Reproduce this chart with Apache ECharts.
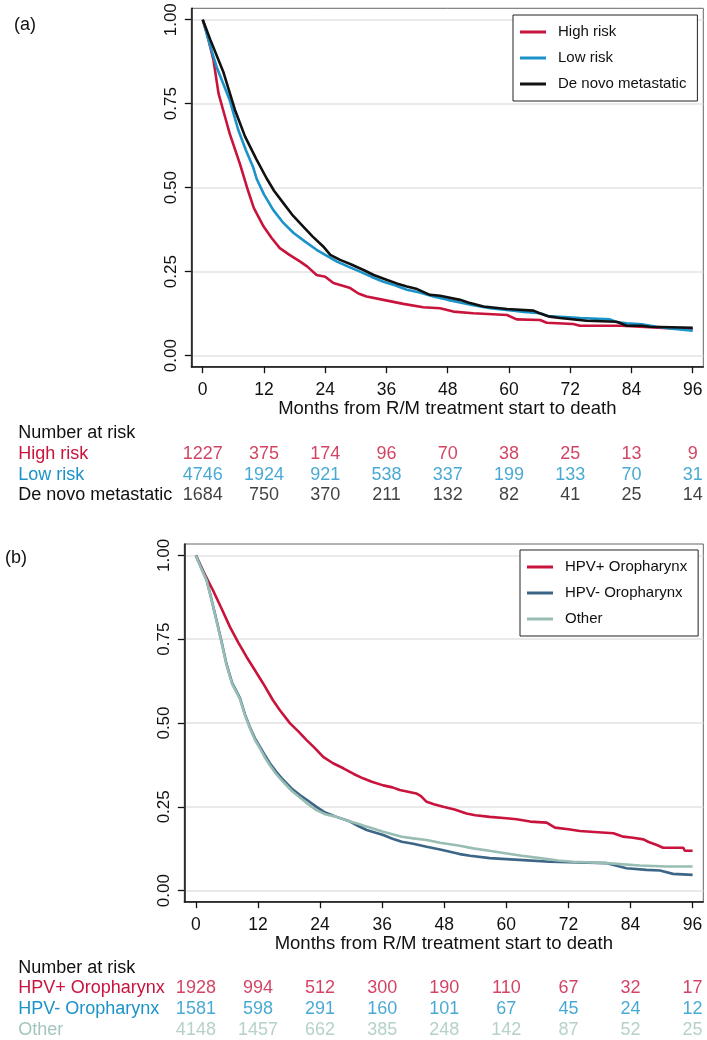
<!DOCTYPE html>
<html>
<head>
<meta charset="utf-8">
<script src="https://cdn.jsdelivr.net/npm/echarts@6/dist/echarts.min.js"></script>
<style>
  html, body {margin: 0; padding: 0; background: #fff;}
  #chart {width: 707px; height: 1040px;}
</style>
</head>
<body>
<div id="chart"></div>
<script>
const monthTicks = [0, 12, 24, 36, 48, 60, 72, 84, 96];
const survivalTicks = [0, 0.25, 0.5, 0.75, 1];

// panel (a) survival curves, [month, survival]
const highRisk = [[0, 1], [0.8, 0.96], [2.1, 0.88], [3.1, 0.78], [4.2, 0.72], [5.3, 0.66], [7.3, 0.57], [8.9, 0.49], [10, 0.44], [11.9, 0.385], [13.5, 0.35], [15.1, 0.32], [17, 0.3], [19.1, 0.28], [20.5, 0.265], [22.3, 0.24], [24, 0.235], [25.6, 0.216], [28.9, 0.201], [30.5, 0.185], [32.1, 0.176], [35.4, 0.166], [39.3, 0.154], [43.2, 0.144], [46.5, 0.141], [49.1, 0.131], [53, 0.126], [59.6, 0.121], [61.5, 0.108], [66.1, 0.106], [67.4, 0.098], [72.6, 0.094], [73.9, 0.089], [82, 0.089], [82.1, 0.086], [90.2, 0.082], [96, 0.079]];
const lowRisk = [[0, 1], [1.5, 0.92], [2.7, 0.86], [4, 0.81], [5.3, 0.76], [7, 0.67], [8.5, 0.61], [9.9, 0.56], [10.6, 0.525], [12, 0.48], [13.8, 0.434], [15.8, 0.395], [17.8, 0.365], [20, 0.34], [22.3, 0.315], [24, 0.3], [26.3, 0.28], [28.5, 0.265], [30.8, 0.25], [33, 0.235], [35.4, 0.22], [37.5, 0.21], [40, 0.196], [42.5, 0.188], [45.2, 0.176], [48, 0.166], [50.4, 0.158], [53, 0.15], [56.3, 0.141], [60, 0.135], [63, 0.13], [66.1, 0.126], [67.5, 0.118], [69.4, 0.116], [74, 0.112], [79.8, 0.108], [81, 0.1], [83.1, 0.096], [86, 0.093], [88.9, 0.086], [92, 0.08], [96, 0.074]];
const deNovo = [[0, 1], [1.5, 0.94], [4, 0.846], [6.3, 0.732], [8.3, 0.652], [10.5, 0.585], [12.5, 0.528], [14, 0.49], [15.8, 0.454], [17.5, 0.42], [19.7, 0.384], [21.5, 0.355], [23.6, 0.325], [25, 0.3], [26.9, 0.285], [29, 0.272], [31.5, 0.255], [33.5, 0.24], [36, 0.226], [38, 0.215], [40, 0.206], [42, 0.198], [44.5, 0.181], [46.5, 0.178], [50.4, 0.166], [52, 0.158], [55, 0.146], [59.6, 0.139], [64.8, 0.134], [66, 0.126], [68, 0.116], [70, 0.112], [75.2, 0.104], [81.1, 0.101], [83.1, 0.089], [86, 0.089], [87.6, 0.086], [96, 0.083]];

// panel (b) survival curves
const hpvPos = [[0, 1], [1.5, 0.95], [3.3, 0.896], [5, 0.84], [6.6, 0.786], [8.2, 0.74], [9.8, 0.697], [11.5, 0.655], [13, 0.618], [14.9, 0.568], [16.2, 0.539], [18.2, 0.499], [19.8, 0.475], [21.4, 0.449], [23, 0.425], [24.6, 0.399], [26.5, 0.38], [28.5, 0.365], [30.5, 0.348], [32.3, 0.335], [34, 0.325], [36.2, 0.314], [38, 0.308], [39.4, 0.3], [42.6, 0.29], [43.5, 0.282], [44.6, 0.265], [46, 0.258], [47.8, 0.25], [50, 0.242], [52.3, 0.23], [54, 0.225], [56.8, 0.22], [60, 0.216], [62, 0.213], [64.6, 0.206], [67.8, 0.203], [69.4, 0.188], [72, 0.183], [74.2, 0.178], [77, 0.175], [80.7, 0.171], [82.6, 0.161], [84.5, 0.158], [86.5, 0.153], [87.5, 0.145], [89.1, 0.136], [90.3, 0.128], [94.2, 0.128], [94.5, 0.119], [96, 0.119]];
const hpvNeg = [[0, 1], [1, 0.965], [2.1, 0.926], [3, 0.87], [4, 0.806], [5, 0.74], [5.9, 0.677], [7, 0.62], [8.5, 0.575], [9.5, 0.525], [10.4, 0.489], [11.4, 0.455], [12.4, 0.429], [13.3, 0.405], [14.3, 0.38], [15.5, 0.355], [16.9, 0.33], [18.5, 0.305], [20.1, 0.285], [21.7, 0.268], [23.3, 0.25], [25, 0.233], [27.2, 0.22], [29.8, 0.206], [31.5, 0.192], [33, 0.181], [36.2, 0.166], [38, 0.155], [39.8, 0.146], [42, 0.14], [44.6, 0.131], [47.2, 0.123], [51, 0.109], [53, 0.104], [56.8, 0.097], [60, 0.094], [63.3, 0.091], [68.4, 0.086], [74, 0.084], [79.4, 0.082], [81.9, 0.072], [83.2, 0.067], [87.1, 0.062], [89.7, 0.06], [92.2, 0.05], [96, 0.047]];
const otherSite = [[0, 1], [1, 0.962], [2.1, 0.924], [3, 0.868], [4, 0.803], [5, 0.737], [5.9, 0.674], [7, 0.617], [8.5, 0.572], [9.5, 0.522], [10.4, 0.486], [11.4, 0.45], [12.4, 0.424], [13.3, 0.398], [14.3, 0.374], [15.5, 0.348], [16.9, 0.324], [18.5, 0.298], [20.1, 0.278], [21.7, 0.258], [23.3, 0.24], [25, 0.228], [27.2, 0.22], [29.8, 0.206], [31.5, 0.199], [33, 0.191], [36.2, 0.176], [39.8, 0.161], [42, 0.156], [44.6, 0.151], [47.2, 0.143], [51, 0.134], [53.6, 0.126], [57, 0.118], [60.1, 0.111], [63, 0.104], [66.5, 0.097], [70, 0.09], [72.9, 0.086], [79.4, 0.082], [85.8, 0.075], [91, 0.072], [96, 0.072]];

// number at risk tables
const riskRowsA = ["Number at risk", "High risk", "Low risk", "De novo metastatic"];
const atRiskHigh = [1227, 375, 174, 96, 70, 38, 25, 13, 9];
const atRiskLow = [4746, 1924, 921, 538, 337, 199, 133, 70, 31];
const atRiskDeNovo = [1684, 750, 370, 211, 132, 82, 41, 25, 14];
const riskRowsB = ["Number at risk", "HPV+ Oropharynx", "HPV- Oropharynx", "Other"];
const atRiskHpvPos = [1928, 994, 512, 300, 190, 110, 67, 32, 17];
const atRiskHpvNeg = [1581, 598, 291, 160, 101, 67, 45, 24, 12];
const atRiskOther = [4148, 1457, 662, 385, 248, 142, 87, 52, 25];

const RED = "#c8143c";
const BLUE = "#1b93c9";
const BLACK = "#111111";
const SLATE = "#3c6586";
const SAGE = "#97bdb4";
const SAGE_TEXT = "#a2c5bd";
const FONT = "'Liberation Sans', Arial, sans-serif";

const X_MIN = -2.24, X_MAX = 98.07, Y_MIN = -0.033, Y_MAX = 1.034;

function plotAxes(gridIndex) {
  const x = {
    type: "value", gridIndex, min: X_MIN, max: X_MAX,
    axisLine: {show: true, onZero: false, lineStyle: {color: BLACK, width: 1.5}},
    axisTick: {show: true, length: 6.5, lineStyle: {color: BLACK, width: 1.3}, customValues: monthTicks},
    axisLabel: {customValues: monthTicks, fontSize: 17.5, color: BLACK, fontFamily: FONT, margin: 14},
    splitLine: {show: false},
    name: "Months from R/M treatment start to death",
    nameLocation: "middle", nameGap: 33,
    nameTextStyle: {fontSize: 18.5, color: BLACK, fontFamily: FONT},
  };
  const y = {
    type: "value", gridIndex, min: Y_MIN, max: Y_MAX,
    axisLine: {show: true, onZero: false, lineStyle: {color: BLACK, width: 1.5}},
    axisTick: {show: true, length: 6.5, lineStyle: {color: BLACK, width: 1.3}, customValues: survivalTicks},
    axisLabel: {customValues: survivalTicks, rotate: 90, fontSize: 17, color: BLACK, fontFamily: FONT, margin: 11,
      formatter: v => v.toFixed(2)},
    splitLine: {show: true, lineStyle: {color: "#e3e3e3", width: 1.5}},
  };
  return [x, y];
}

function riskAxes(gridIndex, rows, colors, labelMargin) {
  const x = {type: "value", gridIndex, min: X_MIN, max: X_MAX, show: false};
  const y = {
    type: "category", gridIndex, data: rows, inverse: true,
    axisLine: {show: false}, axisTick: {show: false}, splitLine: {show: false},
    axisLabel: {interval: 0, align: "left", margin: labelMargin, fontSize: 18, fontFamily: FONT,
      color: (value, index) => colors[index]},
  };
  return [x, y];
}

function curve(name, data, color, axisIndex) {
  return {
    name, type: "line", data, xAxisIndex: axisIndex, yAxisIndex: axisIndex,
    showSymbol: false, symbol: "none", color,
    lineStyle: {color, width: 2.6}, silent: true,
  };
}

function riskRow(row, counts, color, axisIndex) {
  return {
    name: "n-" + row, type: "scatter", xAxisIndex: axisIndex, yAxisIndex: axisIndex,
    data: counts.map((n, i) => [monthTicks[i], row, n]),
    symbolSize: 1, itemStyle: {color: "transparent"}, silent: true,
    label: {show: true, position: "inside", formatter: p => String(p.value[2]),
      fontSize: 18, color, fontFamily: FONT},
  };
}

function legendBox(left, top, names) {
  return {
    data: names, left, top, orient: "vertical",
    padding: [7, 11, 7, 7], itemWidth: 26, itemHeight: 3, itemGap: 6, icon: "rect",
    borderColor: "#222", borderWidth: 1, backgroundColor: "#fff",
    selectedMode: false,
    textStyle: {fontSize: 15, lineHeight: 20, color: BLACK, fontFamily: FONT, padding: [0, 0, 0, 7]},
  };
}

const [xa, ya] = plotAxes(0);
const [xra, yra] = riskAxes(1, riskRowsA, [BLACK, RED, BLUE, BLACK], 173);
const [xb, yb] = plotAxes(2);
const [xrb, yrb] = riskAxes(3, riskRowsB, [BLACK, RED, BLUE, SAGE_TEXT], 166);

const chart = echarts.init(document.getElementById("chart"), null, {renderer: "canvas"});
chart.setOption({
  animation: false,
  backgroundColor: "#fff",
  textStyle: {fontFamily: FONT},
  title: [
    {text: "(a)", left: 9, top: 11, textStyle: {fontSize: 18, fontWeight: "normal", color: BLACK, fontFamily: FONT}},
    {text: "(b)", left: 0, top: 544, textStyle: {fontSize: 18, fontWeight: "normal", color: BLACK, fontFamily: FONT}},
  ],
  legend: [
    legendBox(513, 15, ["High risk", "Low risk", "De novo metastatic"]),
    legendBox(520, 550, ["HPV+ Oropharynx", "HPV- Oropharynx", "Other"]),
  ],
  grid: [
    {left: 191.3, right: 3.7, top: 8.3, bottom: 673.3, show: true, borderColor: "#666", borderWidth: 1},
    {left: 191.3, right: 3.7, top: 423, bottom: 534.2},
    {left: 184.3, right: 3.7, top: 544, bottom: 138.3, show: true, borderColor: "#666", borderWidth: 1},
    {left: 184.3, right: 3.7, top: 957.6, bottom: 0},
  ],
  xAxis: [xa, xra, xb, xrb],
  yAxis: [ya, yra, yb, yrb],
  series: [
    curve("High risk", highRisk, RED, 0),
    curve("Low risk", lowRisk, BLUE, 0),
    curve("De novo metastatic", deNovo, BLACK, 0),
    riskRow("High risk", atRiskHigh, RED, 1),
    riskRow("Low risk", atRiskLow, BLUE, 1),
    riskRow("De novo metastatic", atRiskDeNovo, BLACK, 1),
    curve("HPV+ Oropharynx", hpvPos, RED, 2),
    curve("HPV- Oropharynx", hpvNeg, SLATE, 2),
    curve("Other", otherSite, SAGE, 2),
    riskRow("HPV+ Oropharynx", atRiskHpvPos, RED, 3),
    riskRow("HPV- Oropharynx", atRiskHpvNeg, BLUE, 3),
    riskRow("Other", atRiskOther, SAGE_TEXT, 3),
  ],
});
</script>
</body>
</html>
